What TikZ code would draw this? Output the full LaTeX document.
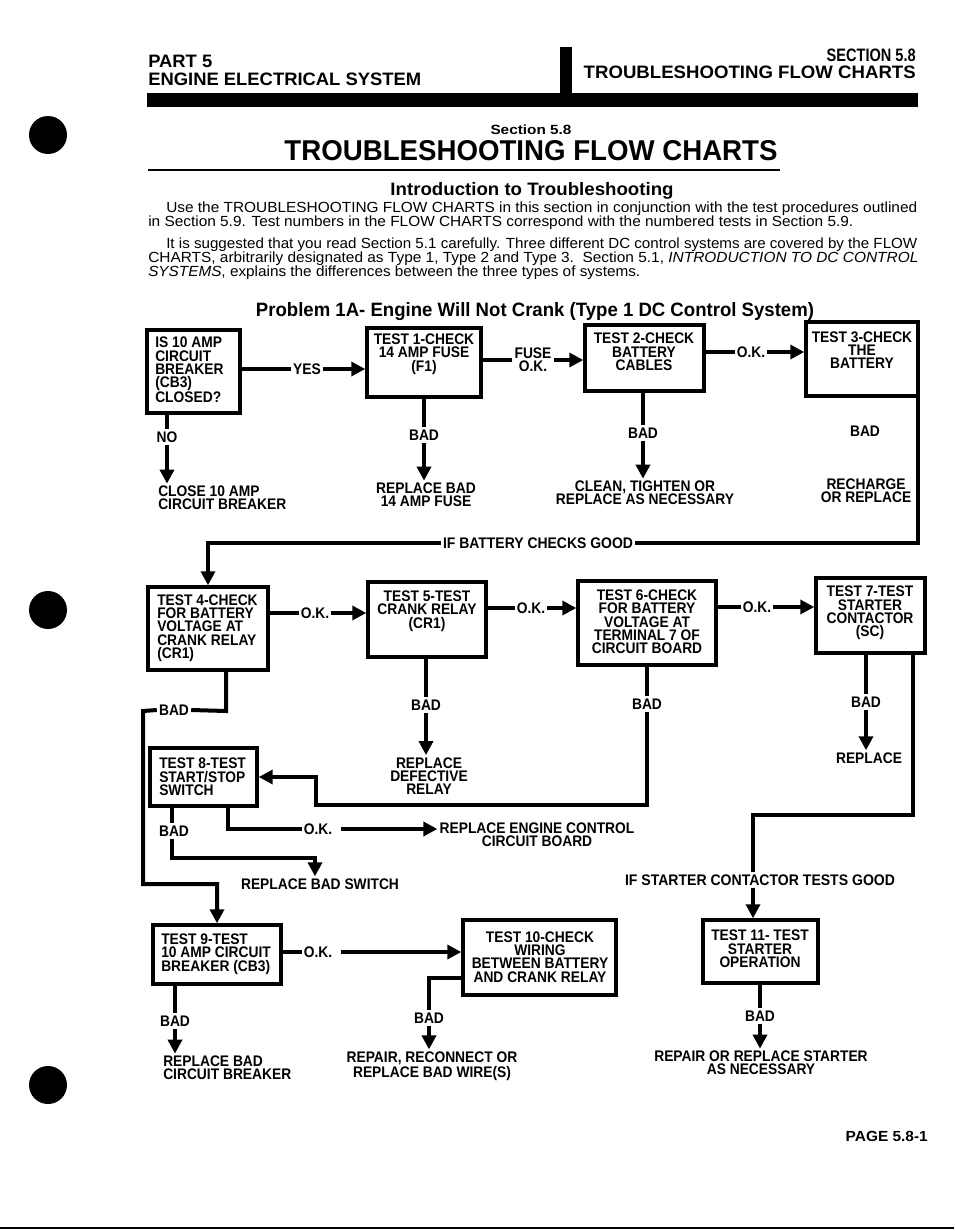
\documentclass[tikz,border=0pt]{standalone}
\usepackage{fontspec}
\setmainfont{Liberation Sans}
\newfontfamily\nar{Liberation Sans}[FakeStretch=0.9]
\usetikzlibrary{arrows.meta,fit}
\newdimen\pxu \pxu=0.75pt
\newcommand\fw[2]{\resizebox{#1\pxu}{\height}{#2}}
\tikzset{
  box/.style={draw, line width=2.6pt, inner sep=0pt},
  btxt/.style={font=\nar\bfseries\fontsize{11.5}{10}\selectfont, inner sep=0pt, align=center},
  ln/.style={line width=3pt},
  arr/.style={line width=3pt, -{Triangle[length=10.5pt,width=10.5pt]}},
  lab/.style={font=\nar\bfseries\fontsize{11.5}{10}\selectfont, inner sep=1.5pt, align=center},
  hdr/.style={font=\bfseries\fontsize{13.5}{13.5}\selectfont, inner sep=0pt},
  para/.style={font=\fontsize{11}{12}\selectfont, inner sep=0pt, anchor=base west}
}
\begin{document}
\begin{tikzpicture}[x=0.75pt,y=-0.75pt]
\useasboundingbox (0,0) rectangle (954,1231);
\fill[white] (0,0) rectangle (954,1231);
% punch holes
\fill (48,135) circle (19);
\fill (48,610) circle (19);
\fill (48,1085) circle (19);
\draw[line width=1.5pt] (0,1228) -- (954,1228);
% header
\node[hdr, anchor=base west] (hp) at (148,68) {\fw{64}{PART 5}};
\node[hdr, anchor=base west] (he) at (148,85) {\fw{273}{ENGINE ELECTRICAL SYSTEM}};
\node[hdr, anchor=base east] (hs) at (916,61) {\fw{89}{SECTION 5.8}};
\node[hdr, anchor=base east] (ht) at (916,79) {\fw{332}{TROUBLESHOOTING FLOW CHARTS}};
\fill (560,47) rectangle (572,100);
\fill (147,93) rectangle (918,107);
% titles
\node[font=\bfseries\fontsize{10}{10}\selectfont, inner sep=0pt, anchor=base] (ts) at (531,134) {\fw{81}{Section 5.8}};
\node[font=\bfseries\fontsize{21.5}{21.5}\selectfont, inner sep=0pt, anchor=base] (tt) at (531,160) {\fw{493}{TROUBLESHOOTING FLOW CHARTS}};
\draw[line width=1.2pt] (148,170) -- (780,170);
\node[font=\bfseries\fontsize{13.5}{13.5}\selectfont, inner sep=0pt, anchor=base] (ti) at (532,195) {\fw{283}{Introduction to Troubleshooting}};
\node[para] (p1) at (166,212) {\fw{751}{Use the TROUBLESHOOTING FLOW CHARTS in this section in conjunction with the test procedures outlined}};
\node[para] (p2) at (148,226) {\fw{705}{in Section 5.9. Test numbers in the FLOW CHARTS correspond with the numbered tests in Section 5.9.}};
\node[para] (p3) at (166,248) {\fw{751}{It is suggested that you read Section 5.1 carefully. Three different DC control systems are covered by the FLOW}};
\node[para] (p4) at (148,262) {\fw{770}{CHARTS, arbitrarily designated as Type 1, Type 2 and Type 3.\ \ Section 5.1, \textit{INTRODUCTION TO DC CONTROL}}};
\node[para] (p5) at (148,276) {\fw{492}{\textit{SYSTEMS}, explains the differences between the three types of systems.}};
\node[font=\bfseries\fontsize{14.5}{14.5}\selectfont, inner sep=0pt, anchor=base] (tp) at (535,316) {\fw{558}{Problem 1A- Engine Will Not Crank (Type 1 DC Control System)}};

% ---- boxes
\node[box, fit={(147,330)(240,413)}] (b0) {};
\node[btxt, align=left, anchor=west] (t0) at (155,370) {IS 10 AMP\\CIRCUIT\\BREAKER\\(CB3)\\CLOSED?};
\node[box, fit={(367,328)(481,397)}] (b1) {};
\node[btxt] (t1) at (424,354) {TEST 1-CHECK\\14 AMP FUSE\\(F1)};
\node[box, fit={(585,325)(704,391)}] (b2) {};
\node[btxt] (t2) at (644,352) {TEST 2-CHECK\\BATTERY\\CABLES};
\node[box, fit={(806,322)(918,396)}] (b3) {};
\node[btxt] (t3) at (862,350) {TEST 3-CHECK\\THE\\BATTERY};
\node[box, fit={(148,587)(268,670)}] (b4) {};
\node[btxt, align=left, anchor=west] (t4) at (157,628) {TEST 4-CHECK\\FOR BATTERY\\VOLTAGE AT\\CRANK RELAY\\(CR1)};
\node[box, fit={(368,582)(486,657)}] (b5) {};
\node[btxt] (t5) at (427,611) {TEST 5-TEST\\CRANK RELAY\\(CR1)};
\node[box, fit={(578,581)(716,665)}] (b6) {};
\node[btxt] (t6) at (647,622) {TEST 6-CHECK\\FOR BATTERY\\VOLTAGE AT\\TERMINAL 7 OF\\CIRCUIT BOARD};
\node[box, fit={(816,578)(925,653)}] (b7) {};
\node[btxt] (t7) at (870,613) {TEST 7-TEST\\STARTER\\CONTACTOR\\(SC)};
\node[box, fit={(150,748)(257,806)}] (b8) {};
\node[btxt, align=left, anchor=west] (t8) at (159,777) {TEST 8-TEST\\START/STOP\\SWITCH};
\node[box, fit={(153,925)(281,984)}] (b9) {};
\node[btxt, align=left, anchor=west] (t9) at (161,954) {TEST 9-TEST\\10 AMP CIRCUIT\\BREAKER (CB3)};
\node[box, fit={(463,920)(616,995)}] (b10) {};
\node[btxt] (t10) at (540,957) {TEST 10-CHECK\\WIRING\\BETWEEN BATTERY\\AND CRANK RELAY};
\node[box, fit={(703,920)(818,983)}] (b11) {};
\node[btxt] (t11) at (760,949) {TEST 11- TEST\\STARTER\\OPERATION};

% ---- labels
\node[lab] (yes) at (307,369) {YES};
\node[lab] (fuse) at (533,360) {FUSE\\O.K.};
\node[lab] (ok1) at (751,352) {O.K.};
\node[lab] (no) at (167,437) {NO};
\node[lab] (bad1) at (424,435) {BAD};
\node[lab] (bad2) at (643,433) {BAD};
\node[lab] (bad3) at (865,431) {BAD};
\node[lab, align=left, anchor=west] (close) at (156,498) {CLOSE 10 AMP\\CIRCUIT BREAKER};
\node[lab] (rep1) at (426,495) {REPLACE BAD\\14 AMP FUSE};
\node[lab] (rep2) at (645,493) {CLEAN, TIGHTEN OR\\REPLACE AS NECESSARY};
\node[lab] (rep3) at (866,491) {RECHARGE\\OR REPLACE};
\node[lab] (good) at (538,543) {\fw{190}{IF BATTERY CHECKS GOOD}};
\node[lab] (ok4) at (315,613) {O.K.};
\node[lab] (ok5) at (531,608) {O.K.};
\node[lab] (ok6) at (757,607) {O.K.};
\node[lab] (bad4) at (174,710) {BAD};
\node[lab] (bad5) at (426,705) {BAD};
\node[lab] (bad6) at (647,704) {BAD};
\node[lab] (bad7) at (866,702) {BAD};
\node[lab] (rdef) at (429,776) {REPLACE\\DEFECTIVE\\RELAY};
\node[lab] (rep7) at (869,758) {REPLACE};
\node[lab] (stgood) at (760,880) {\fw{270}{IF STARTER CONTACTOR TESTS GOOD}};
\node[lab] (bad8) at (174,831) {BAD};
\node[lab] (ok8) at (318,829) {O.K.};
\node[lab] (recb) at (537,835) {REPLACE ENGINE CONTROL\\CIRCUIT BOARD};
\node[lab] (repsw) at (320,884) {REPLACE BAD SWITCH};
\node[lab] (ok9) at (318,952) {O.K.};
\node[lab] (bad9) at (175,1021) {BAD};
\node[lab, align=left, anchor=west] (rep9) at (161,1068) {REPLACE BAD\\CIRCUIT BREAKER};
\node[lab] (bad10) at (429,1018) {BAD};
\node[lab] (rep10) at (432,1066) {REPAIR, RECONNECT OR\\REPLACE BAD WIRE(S)};
\node[lab] (bad11) at (760,1016) {BAD};
\node[lab] (rep11) at (761,1063) {REPAIR OR REPLACE STARTER\\AS NECESSARY};
\node[font=\bfseries\fontsize{11}{10}\selectfont, inner sep=0pt, anchor=base east] (pg) at (928,1141) {\fw{82}{PAGE 5.8-1}};

% ---- bend points
\coordinate (k4a) at (226,711);
\coordinate (k4b) at (143,711);
\coordinate (k4c) at (143,884);
\coordinate (k6a) at (647,805);
\coordinate (k6b) at (316,805);
\coordinate (k7a) at (913,815);
\coordinate (k7b) at (753,815);
\coordinate (k8a) at (172,858);
\coordinate (k8b) at (315,858);
\coordinate (k8c) at (228,829);
\coordinate (k10) at (429,978);

% ---- connectors row 1
\draw[ln] (b0.east |- yes) -- (yes.west);
\draw[arr] (yes.east) -- (b1.west |- yes);
\draw[ln] (b1.east |- fuse) -- (fuse.west);
\draw[arr] (fuse.east) -- (b2.west |- fuse);
\draw[ln] (b2.east |- ok1) -- (ok1.west);
\draw[arr] (ok1.east) -- (b3.west |- ok1);
\draw[ln] (b0.south -| no) -- (no.north);
\draw[arr] (no.south) -- (no.south |- close.north);
\draw[ln] (b1.south -| bad1) -- (bad1.north);
\draw[arr] (bad1.south) -- (bad1.south |- rep1.north);
\draw[ln] (b2.south -| bad2) -- (bad2.north);
\draw[arr] (bad2.south) -- (bad2.south |- rep2.north);
\draw[ln] ([xshift=-1.3pt]b3.south east) |- (good.east);
\draw[arr] (good.west) -| (b4.north);

% ---- row 2
\draw[ln] (b4.east |- ok4) -- (ok4.west);
\draw[arr] (ok4.east) -- (b5.west |- ok4);
\draw[ln] (b5.east |- ok5) -- (ok5.west);
\draw[arr] (ok5.east) -- (b6.west |- ok5);
\draw[ln] (b6.east |- ok6) -- (ok6.west);
\draw[arr] (ok6.east) -- (b7.west |- ok6);
\draw[ln] (b4.south -| k4a) -- (k4a) -- (bad4.east);
\draw[arr] (bad4.west) -- (k4b) -- (k4c) -| (b9.north);
\draw[ln] (b5.south -| bad5) -- (bad5.north);
\draw[arr] (bad5.south) -- (bad5.south |- rdef.north);
\draw[ln] (b6.south -| bad6) -- (bad6.north);
\draw[arr] (bad6.south) -- (k6a) -- (k6b) |- (b8.east);
\draw[ln] (b7.south -| bad7) -- (bad7.north);
\draw[arr] (bad7.south) -- (bad7.south |- rep7.north);
\draw[ln] (b7.south -| k7a) -- (k7a) -- (k7b) -- (k7b |- stgood.north);
\draw[arr] (stgood.south -| k7b) -- (b11.north -| k7b);

% ---- row 3
\draw[ln] (b8.south -| k8a) -- (k8a |- bad8.north);
\draw[arr] (k8a |- bad8.south) -- (k8a) -- (k8b) -- (k8b |- repsw.north);
\draw[ln] (b8.south -| k8c) -- (k8c) -- (ok8.west);
\draw[arr] ([xshift=5pt]ok8.east) -- (recb.west |- ok8);

% ---- row 4
\draw[ln] (b9.east |- ok9) -- (ok9.west);
\draw[arr] ([xshift=5pt]ok9.east) -- (b10.west |- ok9);
\draw[ln] (b9.south -| bad9) -- (bad9.north);
\draw[arr] (bad9.south) -- (bad9.south |- rep9.north);
\draw[ln] (b10.west |- k10) -- (k10) -- (k10 |- bad10.north);
\draw[arr] (bad10.south) -- (bad10.south |- rep10.north);
\draw[ln] (b11.south -| bad11) -- (bad11.north);
\draw[arr] (bad11.south) -- (bad11.south |- rep11.north);
\end{tikzpicture}
\end{document}
